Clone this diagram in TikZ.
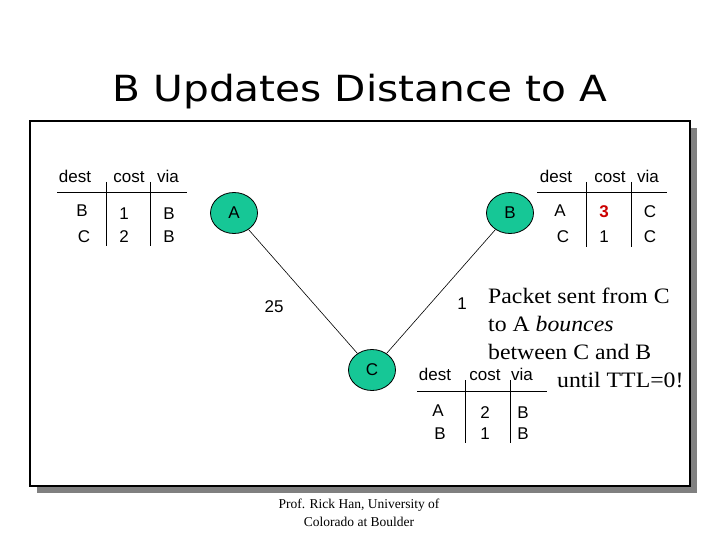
\documentclass[tikz,border=0pt]{standalone}
\usepackage{fontspec}
\setmainfont{Liberation Serif}
\setsansfont{Liberation Sans}
\newfontfamily\titlefont{DejaVu Sans}
\usetikzlibrary{shapes.geometric}
\definecolor{nodegreen}{RGB}{22,199,150}
\definecolor{shadowgray}{RGB}{128,128,128}
\definecolor{costred}{RGB}{204,0,0}
\begin{document}
\begin{tikzpicture}[x=1pt,y=-1pt,
  router/.style={ellipse, draw=black, line width=0.8pt, fill=nodegreen,
    minimum width=47pt, minimum height=41pt, inner sep=0pt,
    font=\sffamily\fontsize{17}{19}\selectfont},
  tabtxt/.style={font=\sffamily\fontsize{17}{19}\selectfont, inner sep=0pt, anchor=base},
  rulebar/.style={line width=0.9pt},
  link/.style={line width=0.6pt},
  linklabel/.style={font=\sffamily\fontsize{17}{19}\selectfont, inner sep=0pt, anchor=base},
  notetxt/.style={font=\rmfamily\fontsize{22}{26}\selectfont, inner sep=0pt, anchor=base west},
  foottxt/.style={font=\rmfamily\fontsize{13.5}{15}\selectfont, inner sep=0pt, anchor=base},
]
\useasboundingbox (0,0) rectangle (720,540);
\fill[white] (0,0) rectangle (720,540);

% title
\node[inner sep=0pt, anchor=base, font=\titlefont\fontsize{36}{40}\selectfont] (title) at (360,102)
  {\scalebox{1.13}[1]{B Updates Distance to A}};

% frame with shadow
\fill[shadowgray] (37,128) rectangle (697,493);
\draw[line width=1.4pt, fill=white] (30,121) rectangle (690,486);

% ---- left table (A)
\node[tabtxt] (la-h1) at (75,183) {dest};
\node[tabtxt] (la-h2) at (129,183) {cost};
\node[tabtxt] (la-h3) at (168,183) {via};
\draw[rulebar] (57,192) -- (187,192);
\draw[rulebar] (106,182) -- (106,246);
\draw[rulebar] (150.5,182) -- (150.5,246);
\node[tabtxt] (la-11) at (82,216) {B};
\node[tabtxt] (la-12) at (124,219) {1};
\node[tabtxt] (la-13) at (169,219) {B};
\node[tabtxt] (la-21) at (84,243) {C};
\node[tabtxt] (la-22) at (124,243) {2};
\node[tabtxt] (la-23) at (169,243) {B};

% ---- right table (B)
\node[tabtxt] (lb-h1) at (556,183) {dest};
\node[tabtxt] (lb-h2) at (610,183) {cost};
\node[tabtxt] (lb-h3) at (648,183) {via};
\draw[rulebar] (537,192) -- (667,192);
\draw[rulebar] (586,182) -- (586,247);
\draw[rulebar] (631,182) -- (631,247);
\node[tabtxt] (lb-11) at (560,216) {A};
\node[tabtxt, text=costred, font=\sffamily\bfseries\fontsize{17}{19}\selectfont] (lb-12) at (604,218) {3};
\node[tabtxt] (lb-13) at (650,218) {C};
\node[tabtxt] (lb-21) at (563,243) {C};
\node[tabtxt] (lb-22) at (604,243) {1};
\node[tabtxt] (lb-23) at (650,243) {C};

% ---- bottom table (C)
\node[tabtxt] (lc-h1) at (435,380) {dest};
\node[tabtxt] (lc-h2) at (485,380) {cost};
\node[tabtxt] (lc-h3) at (522,380) {via};
\draw[rulebar] (417,391) -- (547,391);
\draw[rulebar] (465,380) -- (465,443);
\draw[rulebar] (510,380) -- (510,443);
\node[tabtxt] (lc-11) at (438,416) {A};
\node[tabtxt] (lc-12) at (485,418) {2};
\node[tabtxt] (lc-13) at (523,418) {B};
\node[tabtxt] (lc-21) at (440,439) {B};
\node[tabtxt] (lc-22) at (485,439) {1};
\node[tabtxt] (lc-23) at (523,439) {B};

% ---- routers and links
\node[router] (A) at (234,213) {A};
\node[router] (B) at (510,213) {B};
\node[router] (C) at (372,370) {C};
\draw[link] (A) -- (C);
\draw[link] (B) -- (C);
\node[linklabel] (l25) at (274,312) {25};
\node[linklabel] (l1) at (462,309) {1};

% ---- note
\node[notetxt] (n1) at (488,303) {\scalebox{1.08}[1]{Packet sent from C}};
\node[notetxt] (n2) at (488,331) {\scalebox{1.08}[1]{to A \textit{bounces}}};
\node[notetxt] (n3) at (488,359) {\scalebox{1.08}[1]{between C and B}};
\node[notetxt] (n4) at (557,387) {\scalebox{1.08}[1]{until TTL=0!}};

% ---- footer
\node[foottxt] (f1) at (359,508) {Prof. Rick Han, University of};
\node[foottxt] (f2) at (359,526) {Colorado at Boulder};
\end{tikzpicture}
\end{document}
